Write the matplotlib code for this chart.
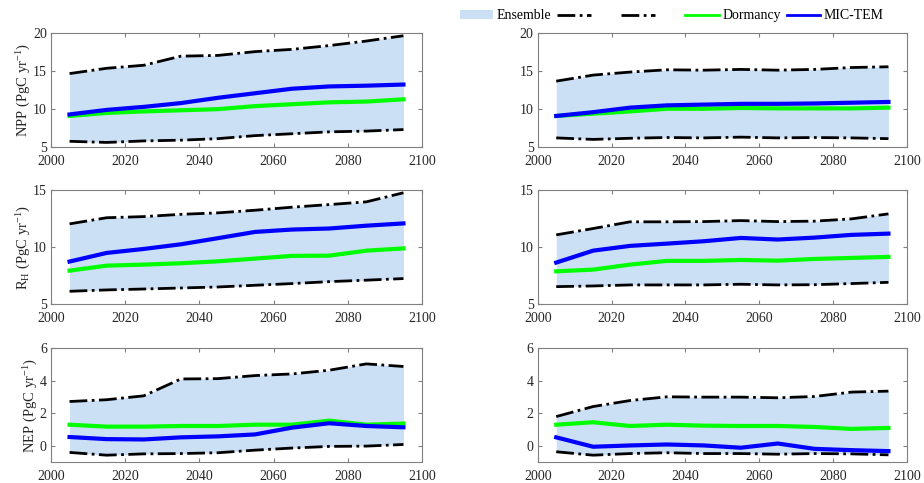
import matplotlib
matplotlib.use('Agg')
import matplotlib.pyplot as plt
from matplotlib.patches import Patch
from matplotlib.lines import Line2D

plt.rcParams['font.family'] = ['Liberation Serif', 'DejaVu Serif']
plt.rcParams['mathtext.fontset'] = 'custom'
plt.rcParams['mathtext.rm'] = 'Liberation Serif'
plt.rcParams['mathtext.it'] = 'Liberation Serif:italic'

years = [2005, 2015, 2025, 2035, 2045, 2055, 2065, 2075, 2085, 2095]

# NPP, left / right
npp_hi_l = [14.7, 15.4, 15.8, 17.0, 17.1, 17.6, 17.9, 18.4, 19.0, 19.7]
npp_lo_l = [5.75, 5.6, 5.8, 5.9, 6.1, 6.5, 6.75, 7.0, 7.1, 7.3]
npp_mic_l = [9.3, 9.9, 10.3, 10.8, 11.5, 12.1, 12.7, 13.0, 13.1, 13.25]
npp_dor_l = [9.1, 9.5, 9.7, 9.85, 10.0, 10.4, 10.65, 10.9, 11.0, 11.3]
npp_hi_r = [13.7, 14.5, 14.9, 15.2, 15.15, 15.25, 15.15, 15.25, 15.5, 15.6]
npp_lo_r = [6.2, 6.0, 6.15, 6.25, 6.2, 6.3, 6.2, 6.25, 6.2, 6.1]
npp_mic_r = [9.1, 9.6, 10.2, 10.5, 10.6, 10.7, 10.7, 10.75, 10.85, 10.95]
npp_dor_r = [9.1, 9.4, 9.7, 10.05, 10.05, 10.15, 10.1, 10.1, 10.1, 10.2]

# RH
rh_hi_l = [12.06, 12.6, 12.7, 12.9, 13.03, 13.26, 13.53, 13.76, 14.0, 14.8]
rh_lo_l = [6.12, 6.24, 6.32, 6.41, 6.5, 6.65, 6.8, 6.97, 7.1, 7.24]
rh_mic_l = [8.74, 9.5, 9.85, 10.26, 10.8, 11.35, 11.56, 11.65, 11.9, 12.1]
rh_dor_l = [7.94, 8.38, 8.47, 8.59, 8.76, 9.0, 9.24, 9.26, 9.7, 9.9]
rh_hi_r = [11.09, 11.65, 12.24, 12.24, 12.26, 12.35, 12.26, 12.3, 12.5, 12.94]
rh_lo_r = [6.53, 6.59, 6.68, 6.68, 6.68, 6.74, 6.68, 6.7, 6.8, 6.91]
rh_mic_r = [8.65, 9.7, 10.12, 10.32, 10.53, 10.82, 10.68, 10.85, 11.09, 11.2]
rh_dor_r = [7.88, 8.03, 8.47, 8.8, 8.8, 8.88, 8.82, 8.97, 9.06, 9.15]

# NEP
nep_hi_l = [2.73, 2.84, 3.08, 4.12, 4.14, 4.33, 4.43, 4.66, 5.05, 4.89]
nep_lo_l = [-0.41, -0.58, -0.5, -0.48, -0.43, -0.27, -0.14, -0.04, -0.02, 0.08]
nep_mic_l = [0.54, 0.41, 0.39, 0.52, 0.58, 0.7, 1.12, 1.39, 1.22, 1.14]
nep_dor_l = [1.3, 1.18, 1.18, 1.22, 1.22, 1.3, 1.3, 1.55, 1.3, 1.37]
nep_hi_r = [1.8, 2.42, 2.79, 3.02, 3.0, 3.0, 2.96, 3.04, 3.31, 3.37]
nep_lo_r = [-0.37, -0.58, -0.48, -0.43, -0.48, -0.48, -0.52, -0.48, -0.5, -0.56]
nep_mic_r = [0.52, -0.06, 0.02, 0.08, 0.02, -0.12, 0.14, -0.19, -0.27, -0.33]
nep_dor_r = [1.3, 1.45, 1.22, 1.3, 1.24, 1.22, 1.22, 1.16, 1.04, 1.1]

ylabels = ['NPP (PgC yr$^{-1}$)', 'R$_\\mathregular{H}$ (PgC yr$^{-1}$)', 'NEP (PgC yr$^{-1}$)']
ylims = [(5, 20), (5, 15), (-1, 6)]
yticks = [[5, 10, 15, 20], [5, 10, 15], [0, 2, 4, 6]]

panels = [
    [(npp_hi_l, npp_lo_l, npp_dor_l, npp_mic_l), (npp_hi_r, npp_lo_r, npp_dor_r, npp_mic_r)],
    [(rh_hi_l, rh_lo_l, rh_dor_l, rh_mic_l), (rh_hi_r, rh_lo_r, rh_dor_r, rh_mic_r)],
    [(nep_hi_l, nep_lo_l, nep_dor_l, nep_mic_l), (nep_hi_r, nep_lo_r, nep_dor_r, nep_mic_r)],
]

fill_c = '#cbdff5'
frame_c = '#808080'
text_c = '#262626'

fig = plt.figure(figsize=(9.24, 4.83), dpi=100)
lefts = [0.0552, 0.582]
widths = [0.4015, 0.3995]
bottoms = [0.6957, 0.3706, 0.0435]
height = 0.235

for r in range(3):
    for c in range(2):
        hi, lo, dor, mic = panels[r][c]
        ax = fig.add_axes([lefts[c], bottoms[r], widths[c], height])
        ax.fill_between(years, lo, hi, color=fill_c, lw=0)
        ax.plot(years, hi, color='k', ls='-.', lw=2)
        ax.plot(years, lo, color='k', ls='-.', lw=2)
        ax.plot(years, dor, color='#00ff00', lw=3)
        ax.plot(years, mic, color='#0000ff', lw=3)
        ax.set_xlim(2000, 2100)
        ax.set_ylim(*ylims[r])
        ax.set_yticks(yticks[r])
        ax.set_xticks(range(2000, 2101, 20))
        ax.tick_params(direction='in', top=True, right=True, length=3,
                       color=frame_c, labelcolor=text_c, labelsize=10)
        ax.tick_params(axis='x', pad=5.5)
        ax.tick_params(axis='y', pad=3)
        for s in ax.spines.values():
            s.set_color(frame_c)
            s.set_linewidth(0.8)
        if c == 0:
            ax.set_ylabel(ylabels[r], fontsize=10.5, color=text_c, labelpad=0)

handles = [Patch(facecolor=fill_c, edgecolor='none'),
           Line2D([], [], color='k', ls='-.', lw=2),
           Line2D([], [], color='k', ls='-.', lw=2),
           Line2D([], [], color='#00ff00', lw=2),
           Line2D([], [], color='#0000ff', lw=2)]
labels = ['Ensemble', '      ', '      ', 'Dormancy', 'MIC-TEM']
fig.legend(handles, labels, loc='center', bbox_to_anchor=(0.727, 0.967), ncol=5,
           frameon=False, fontsize=10, handlelength=2.4, handletextpad=0.25,
           columnspacing=0.45, borderaxespad=0)

fig.savefig('out.png', dpi=100)
